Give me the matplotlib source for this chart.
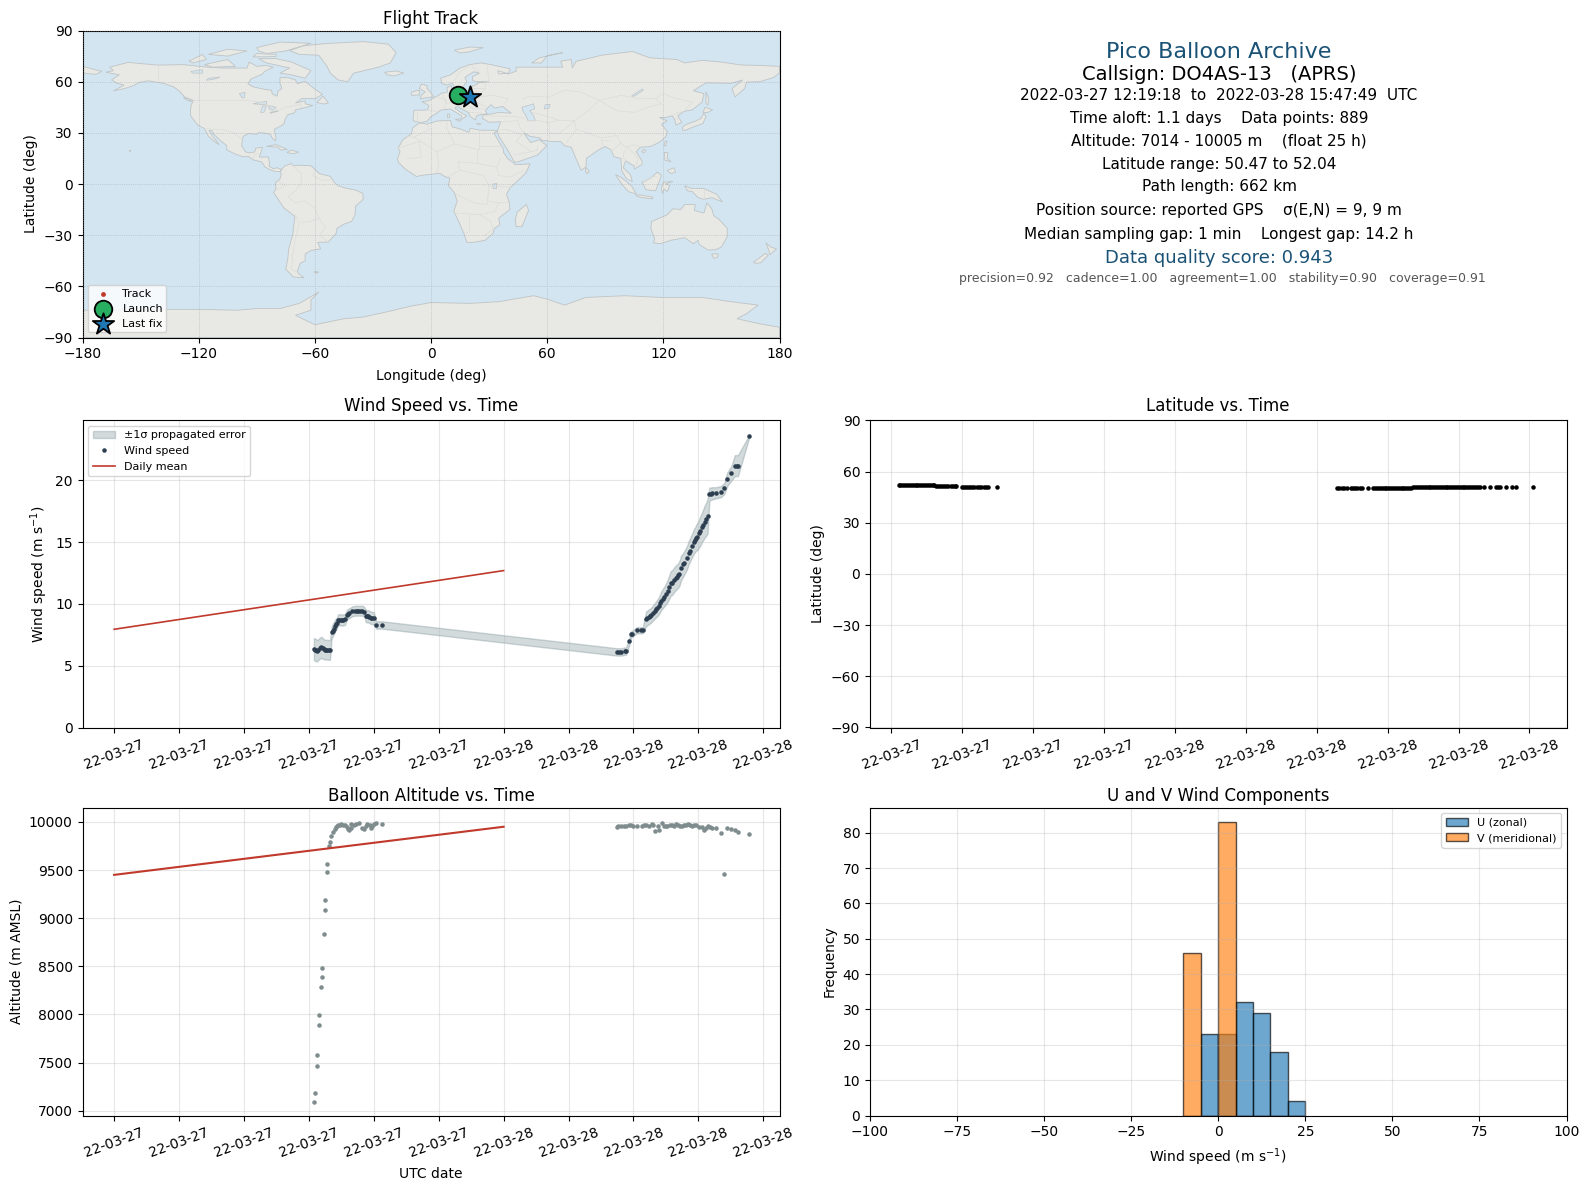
import pandas as pd
import matplotlib
matplotlib.use("Agg")
import matplotlib.pyplot as plt
import matplotlib.dates as mdates

# --- simplified coastlines (lon, lat) ---
north_america = [(-168,65.5),(-164,66.5),(-166,68.5),(-156.5,71.3),(-141,69.7),(-128,70),(-115,68.5),(-108,68),(-95,68),(-94,71.5),(-90,69),(-85,69.5),(-81.5,68.5),(-86,66),(-87,64.5),(-93,61.5),(-94.5,58.8),(-92,57),(-85,55.3),(-82.3,55),(-82,52.8),(-79.5,51.5),(-79,54.5),(-77,56),(-78,58.8),(-78,62.4),(-73.5,62.3),(-70,61),(-69,58.8),(-65,60.3),(-61,56.5),(-56,52.5),(-60,50),(-66.5,50.2),(-70,47.5),(-65,48.8),(-65,47),(-61,46),(-66,44.5),(-70,43.5),(-70.5,41.7),(-74,40.6),(-75.5,37.5),(-76,35),(-81,32),(-80,27),(-80.5,25.2),(-82,27),(-83,29),(-85,29.7),(-89,30.2),(-90,29.1),(-94,29.6),(-97,28),(-97.5,25),(-97.8,22.5),(-96,19),(-94,18.2),(-91,18.8),(-90.5,21),(-87,21.5),(-88,18),(-88.7,15.8),(-84,15.8),(-83.3,12),(-83.7,10.5),(-81.5,9),(-79.5,9.5),(-77.4,8.7),(-77.9,7.2),(-80,7.3),(-81.5,7.7),(-83.5,8.5),(-85.7,10),(-87.5,13),(-91.5,14),(-94.5,16.2),(-97,15.9),(-102,18),(-105.5,20),(-105.5,22.5),(-109,25.7),(-112,29),(-113,31.2),(-114.7,31.5),(-112.8,28),(-110,24),(-109.5,23),(-112,25),(-115,28),(-117,32.5),(-120.5,34.5),(-122.5,37.5),(-124.3,40.3),(-124,46),(-122.7,49),(-127,50.8),(-130,54.5),(-133,57),(-138,59),(-146,60.5),(-151,59.5),(-153,58),(-158,56),(-164,54.6),(-158.5,58),(-162,59),(-165,61),(-161,64)]
south_america = [(-77.9,7.2),(-75.5,10.7),(-72,12),(-71.5,10.8),(-68,11),(-62,10.7),(-57.5,6),(-52,4.5),(-50,1),(-48,-1),(-44,-2.5),(-39,-3.5),(-35.2,-5.5),(-35,-9),(-39,-13),(-39.2,-18),(-41,-22),(-45,-23.5),(-48.5,-26),(-49,-29),(-53,-34),(-58.5,-34.2),(-57,-38),(-62,-39),(-65,-41),(-65,-45),(-67.5,-46.5),(-69,-51),(-68.5,-52.5),(-65.5,-55),(-71,-54.5),(-75,-50),(-74,-44),(-73.5,-38),(-71.5,-30),(-70.3,-19),(-76,-14),(-81.3,-5),(-80,-2.5),(-80.5,0.5),(-78,3),(-77.3,6)]
africa = [(-5.9,35.8),(-2,35.1),(3,36.9),(10,37.3),(11,33.5),(15,32.3),(19.5,30.3),(20.2,32.7),(25,31.6),(31,31.5),(34.6,31.4),(32.5,29.8),(34,27),(35.5,24),(37.2,21),(37.5,18.5),(39.5,15),(43,12),(43.3,11.3),(51.2,11.8),(49,6.5),(44,1),(41,-2),(39,-6),(40.5,-11),(40.7,-15),(35,-20),(35.5,-24),(32.8,-26),(32,-29),(28,-33),(22,-34.2),(18.5,-34.2),(17,-29),(14.5,-22.5),(11.8,-16),(13.5,-10),(12,-5),(9,-1),(9.7,3.5),(7,4.4),(4.5,6.3),(1,5.8),(-4,5.2),(-7.5,4.4),(-13,8.5),(-16.7,12.5),(-17.3,14.7),(-16,19),(-17,21),(-14.5,26),(-10,29.5),(-9.5,33)]
eurasia = [(-5.6,36),(-9,37),(-9.3,39),(-8.8,43.2),(-1.8,43.4),(-1,46),(-4.7,48.3),(-1.5,48.7),(1.5,50.5),(4,52),(5.5,53.3),(8.5,53.8),(8.3,56.5),(10.6,57.7),(10.5,54.5),(14,54),(19,54.5),(21,55.5),(21.5,57.5),(24,58.5),(24,59.3),(30,60),(23,60),(21.3,61),(21.5,63),(25,65),(22,65.8),(17.5,62.5),(18.5,60),(16.5,57),(14.3,55.5),(12.7,56),(11,59),(8,58),(5.5,59),(5,62),(10,64),(15,68),(20,70),(26,71),(31,70),(41,67.5),(40,65),(35,64.5),(34.5,66.5),(40,64.5),(44,66.2),(44,68.5),(54,68.5),(60,68.5),(68,68.5),(67,72),(72.5,73),(73,68),(75,72),(81,73.5),(88,75.5),(104,77.7),(113,74),(127,73),(131,71),(140,72.5),(150,71.5),(160,69.8),(170,69.5),(180,69),(180,65),(177,62.5),(170,60),(163,59.8),(162,56),(157,51),(155.5,56),(161,61),(155,59),(142,59.3),(135.5,54.7),(141,53),(140,48),(135,43.5),(130.5,42.5),(127.5,40),(129.5,36),(126.5,34.5),(126,37.5),(124.5,40),(121.5,39),(118,39),(122,37),(119,35),(122,31),(121.5,28),(118,24.5),(113.5,22),(108,21.5),(106,19),(109,13.5),(109,11.5),(105,8.7),(105,10.5),(100.5,13.5),(99.3,9.5),(103,5.5),(104,1.5),(101,3),(98.5,8),(98,15),(94.5,16),(93,20),(90,22),(86.5,20),(80.3,15),(80,10),(77.5,8),(73,20),(72.5,21.5),(69,22.5),(67,24.8),(61.5,25),(57,25.7),(56.3,27),(51,28),(48,30),(50,26.5),(51.5,24.3),(56,26),(59.8,22.5),(55,17),(45,13),(43.2,12.7),(39,21),(35,28),(34.3,31),(36,36.5),(30,36.2),(26.5,38.5),(27,40.7),(31,41),(35,42),(41.5,41.5),(38,44.5),(37,45.5),(33,44.5),(31,46.5),(28,43),(29,41),(26,40.8),(23.5,40),(23,37.5),(20,39.8),(19.5,41.8),(13.5,45.5),(12.3,44.5),(16,41.5),(18.5,40),(16,38),(15.7,40),(10,44),(5,43.3),(3,41.5),(0,39.5),(-2,36.8)]
chukotka = [(-180,69),(-175,67.5),(-170,66),(-173,64.3),(-180,65)]
greenland = [(-73,78.2),(-66,81),(-55,82.3),(-35,83.5),(-22,82),(-18,77),(-21,71),(-27,68.5),(-40,65),(-43,60),(-48,61),(-52,65),(-54,69.5),(-58,75.5),(-68,76)]
australia = [(114,-22),(113.5,-26),(115.5,-32),(115,-34.5),(118.5,-35),(124,-33),(131,-31.5),(135.5,-35),(138,-33),(138.5,-35.5),(143,-38.7),(147,-38.5),(150,-37),(153,-31),(153,-26),(149,-21),(146,-18.5),(145,-14.5),(142.5,-11),(141,-17),(136,-15.5),(136.5,-12),(131,-12),(129,-15),(125,-14.5),(122,-18),(117,-20.5)]
antarctica = [(-180,-90),(-180,-74),(-150,-74),(-135,-73.5),(-120,-73.5),(-100,-74),(-90,-73),(-78,-73),(-68,-70),(-58,-63.4),(-62,-68),(-62,-74),(-70,-77),(-60,-82.5),(-45,-79),(-35,-78),(-23,-75),(-10,-71.5),(0,-69.5),(20,-70),(35,-69),(53,-65.5),(60,-67.5),(69,-71),(80,-66.5),(100,-65.5),(119,-66.5),(140,-66.5),(155,-69),(169,-71),(163,-76),(158,-79),(170,-82),(180,-84),(180,-90)]
islands = [
    [(-5.5,50),(1.5,51.2),(0,53.5),(-2,56),(-2,57.7),(-5,58.6),(-6,56),(-3,54),(-5,52)],
    [(-10,52),(-6,52.2),(-6,55),(-10,54)],
    [(-24,65.5),(-18,66.3),(-14,65),(-19,63.4),(-22.5,64)],
    [(12,78.5),(20,80.3),(27,80),(20,77.5),(15,76.8)],
    [(52,71),(56,74),(68,77),(60,75.3),(57,71)],
    [(142,54),(143.5,50),(143,46.2),(142,47.5),(142,51)],
    [(140.5,41.8),(141.5,45),(145.5,43.5),(143,42)],
    [(130,31.5),(131.5,31.5),(136,33.7),(140.5,35.5),(142,39.5),(141,41.5),(139.5,38.5),(136.5,36.8),(132,35),(130,33.5)],
    [(120.3,23),(121,22),(122,25),(121,25.2)],
    [(108.8,19),(110,18.2),(111,19.8),(109.8,20.2)],
    [(120.5,18.5),(122.3,18.3),(122,15),(124,13),(120.8,14)],
    [(122,8),(125.5,9.5),(126.3,7),(124,6)],
    [(109,1),(111,2),(113.5,3.5),(117,7),(119,5),(117.7,1),(116,-4),(111,-3.3)],
    [(95.3,5.5),(98,4),(103.5,-1),(106,-5.8),(102,-4.5),(98.5,0)],
    [(105.5,-6.5),(108,-6.4),(114.5,-7.7),(114.5,-8.7),(108,-7.8)],
    [(119.5,-5.5),(119,-2.5),(120,1),(125,1.5),(121,0),(123.3,-1),(122,-4.5),(120.5,-3)],
    [(131,-1),(134,-2.5),(141,-2.7),(147.5,-6),(150.5,-10.5),(145,-8),(141,-9),(138,-8),(135,-4.5),(132.5,-4)],
    [(145,-41),(148.3,-41),(148,-43),(146,-43.6)],
    [(173,-34.5),(175.5,-37),(178.5,-38),(175,-41.5),(174.5,-39)],
    [(172.7,-40.6),(174.2,-41.7),(170.7,-45.8),(168.5,-46.6),(166.5,-46)],
    [(49.3,-12),(50.4,-15.5),(47,-25),(44,-25),(43.5,-21),(44.5,-16.5)],
    [(80,9.7),(81.8,7.5),(80.7,6),(79.8,7.5)],
    [(-85,22),(-80,23.1),(-74.2,20.2),(-77.7,19.9),(-79,21.6)],
    [(-74.4,18.5),(-72,19.9),(-68.4,18.6),(-71.3,17.7)],
    [(-59,47.7),(-55.7,51.5),(-53,47.5),(-55.5,46.9)],
    [(-80,73.5),(-72,71.5),(-67,69),(-62,66.5),(-65,62),(-72,64),(-78,65),(-73,68),(-85,71),(-89,73.5)],
    [(-117,70),(-105,73),(-101,69),(-113,68.5)],
    [(-125,72),(-118,76),(-116,73),(-123,71)],
    [(-90,76.5),(-80,76),(-80,74.7),(-92,74.5)],
    [(-90,80),(-78,83.2),(-62,82.5),(-75,78),(-85,76.5),(-89,78)],
    [(-115,76),(-105,79),(-95,78),(-105,75)],
    [(-128,50.7),(-125.5,50),(-123.5,48.4),(-125.5,48.8)],
    [(-156,19.5),(-155,19.8),(-155.5,19)],
    [(-60.5,-51.5),(-58,-51.5),(-59,-52.3)],
    [(12.5,38),(15.5,38),(15,36.7)],
    [(8.5,41),(9.7,41),(9.5,39),(8.5,39)],
    [(23.5,35.5),(26,35.3),(24.5,34.9)],
]
lakes = [
    [(-92,47),(-85,48.5),(-84.8,46.7),(-88,46.7)],
    [(-88,42),(-86.3,42),(-85,45.8),(-87,45.8)],
    [(-84,46),(-80,45),(-81.8,43.2),(-83.5,44)],
    [(-83,42),(-79,43),(-79,42.7),(-83,41.5)],
    [(-124,66),(-118,67),(-118,65),(-123,65)],
    [(-115,62),(-109,62.7),(-112,61.5),(-116,60.8)],
    [(-99,53),(-96,53.7),(-96.5,50.5),(-97.5,50.5)],
    [(47,45),(53,47),(53.5,44),(51,43),(53,40),(54,37),(50,37.3),(49,40),(47.5,42.8)],
    [(59,46.5),(61.5,46.7),(61,44.5),(58.5,44)],
    [(103.5,51.5),(109,55.7),(109.7,55),(105,51.5)],
    [(32,0),(34,0.3),(33.7,-2.8),(32,-2.5)],
]
borders = [
    [(-141,69.7),(-141,60.3)],
    [(-123,49),(-95,49),(-88,48),(-82.5,45),(-79,43),(-75,45),(-70,46),(-67.5,47),(-67,45)],
    [(-117,32.5),(-106.5,31.7),(-101,29.5),(-97.5,26)],
    [(-92,14.5),(-91,17.5),(-89,17.8)],
    [(-72,11.5),(-67,6),(-67,1),(-70,-4),(-74,-7.5),(-70,-11),(-65,-10),(-60,-14),(-58,-20),(-54.5,-25.5),(-57.5,-30),(-53.5,-33.7)],
    [(-60,8),(-61,5),(-56,2),(-52,2.5)],
    [(-70,-18),(-68,-23),(-70,-32),(-71.5,-42),(-72,-50),(-69,-52)],
    [(-80,-3.5),(-75,-1),(-79,1.5)],
    [(-58,-20),(-62,-22),(-67,-22.5)],
    [(-13,27.7),(-8.7,27.5),(-1,32),(-2,35)],
    [(-8.7,27.5),(3,19),(12,23.5),(9.5,30),(8,33),(8.5,37)],
    [(12,23.5),(25,20),(25,31.5)],
    [(25,22),(37,22)],
    [(-17,21),(-6,25),(-5,15.5),(-12,15)],
    [(3,19),(4,12),(3,6.5)],
    [(14,13),(15,8),(9,4.5)],
    [(14,13),(24,12),(24,20)],
    [(24,12),(34,10),(36,15)],
    [(34,10),(35,5),(41,4),(48,8)],
    [(15,8),(27,5),(30,-1),(29,-12),(22,-11),(13,-6)],
    [(30,-1),(41,-2)],
    [(30,-10),(34,-11),(40,-11)],
    [(12,-17),(25,-18),(33,-16),(35,-11)],
    [(20,-18),(20,-28),(17,-29)],
    [(25,-18),(31,-22),(32,-26.5),(28,-30)],
    [(-1.8,43.4),(3,42.5)],
    [(-7,42),(-7,37)],
    [(3,51),(8,49),(7.5,47.5),(7,44)],
    [(7,53.5),(6,51),(8,49)],
    [(7.5,47.5),(13,47.5),(17,48),(22.5,48.5),(24,51),(23.5,54),(19,54.5)],
    [(14,54),(15,51),(19,49.5),(22.5,48.5)],
    [(22.5,48.5),(28,45.5),(29,45.3)],
    [(13.5,45.5),(19,46),(22.5,44),(28,44)],
    [(20,42),(26,41.5)],
    [(24,51),(32,52),(40,50),(38,47)],
    [(28,56),(28,59.5),(30,60),(29,69)],
    [(24,51),(28,56),(21,56)],
    [(21,69),(25,65.5)],
    [(12.5,61),(15,66),(20,69)],
    [(26,40),(44,39.5),(48,38.5)],
    [(36,36.5),(42,37),(44.5,37.5)],
    [(44.5,37.5),(46,33),(48,30)],
    [(36,32),(39,32),(47,29)],
    [(47,29),(44,25),(52,19),(55,20),(55,22)],
    [(43,17),(52,19)],
    [(50,37),(54,37.3),(61,36),(61,31),(61.5,25)],
    [(61,36),(66,37.3),(74,37)],
    [(61,30),(66,29.5),(70,33),(74,37)],
    [(74,37),(75,32),(70,24.5)],
    [(75,32),(81,30),(88,27),(96,28.5),(98,24),(101,21.5)],
    [(92,25),(88,26),(89,22)],
    [(98,24),(94,20)],
    [(101,21.5),(105,23),(108,21.5)],
    [(101,21.5),(105,18),(107,15),(106,11)],
    [(100,20),(99,15),(103,12.5)],
    [(52,42),(56,41),(66,37.5)],
    [(47.5,50),(51,51.5),(61,51),(69,55),(77,54),(87,49)],
    [(87,49),(98,52),(107,50),(116,50),(120,53),(127,50),(135,48),(131,43)],
    [(87,49),(96,43),(105,42),(112,45),(119,47),(116,50)],
    [(74,37),(80,42),(87,49)],
    [(124.5,40),(128,42),(130.5,42.5)],
    [(126.5,38),(128.5,38.5)],
    [(141,-2.7),(141,-9)],
    [(110,1.5),(115,4.5),(117,4)],
]

# Flight data, hours after 2022-03-27 00:00 UTC
wind_hours = [12.31,12.37,12.45,12.5,12.58,12.66,12.77,12.85,12.92,12.98,13.06,13.14,13.22,13.3,13.4,13.46,13.52,13.6,13.66,13.72,13.8,13.88,13.96,14.04,14.1,14.22,14.34,14.42,14.5,14.66,14.85,14.95,15.05,15.18,15.3,15.42,15.5,15.58,15.66,15.72,15.8,15.9,16.0,16.15,16.5,30.97,31.08,31.24,31.48,31.55,31.75,31.86,31.94,32.2,32.45,32.57,32.78,32.86,32.94,33.02,33.09,33.2,33.3,33.4,33.48,33.56,33.64,33.7,33.8,33.9,34.0,34.1,34.2,34.3,34.38,34.5,34.6,34.68,34.76,34.83,34.93,35.08,35.14,35.3,35.4,35.46,35.6,35.72,35.8,35.86,35.94,36.06,36.12,36.22,36.3,36.38,36.48,36.57,36.68,36.76,36.84,37.09,37.4,37.6,37.78,38.03,38.25,38.36,38.44,39.14]
wind_speed = [6.35,6.3,6.25,6.2,6.3,6.4,6.5,6.4,6.35,6.3,6.3,6.3,6.28,6.27,7.7,7.85,8.0,8.2,8.35,8.45,8.7,8.72,8.72,8.7,8.7,8.75,9.1,9.22,9.25,9.4,9.45,9.45,9.45,9.45,9.45,9.35,9.05,9.0,9.0,8.95,8.9,8.85,8.85,8.3,8.3,6.12,6.12,6.12,6.18,6.2,7.0,7.55,7.6,7.87,7.87,7.87,8.8,8.87,8.95,9.02,9.1,9.25,9.42,9.57,9.7,9.85,10.05,10.25,10.42,10.6,10.8,11.05,11.35,11.67,11.72,11.95,12.1,12.2,12.32,12.45,12.9,13.2,13.35,13.75,14.15,14.3,14.7,15.05,15.2,15.36,15.45,15.75,15.9,16.2,16.4,16.65,16.85,17.1,18.87,18.92,18.95,19.0,19.1,19.35,20.1,20.57,21.2,21.2,21.2,23.6]
wind_err = [0.9,0.9,0.9,0.85,0.85,0.85,0.85,0.85,0.8,0.8,0.8,0.8,0.8,0.8,0.5,0.5,0.5,0.5,0.45,0.45,0.45,0.45,0.45,0.45,0.45,0.45,0.4,0.4,0.4,0.4,0.4,0.4,0.4,0.4,0.4,0.4,0.5,0.5,0.5,0.5,0.5,0.5,0.5,0.3,0.3,0.3,0.3,0.3,0.3,0.3,0.3,0.25,0.25,0.25,0.25,0.25,0.6,0.6,0.6,0.6,0.6,0.62,0.62,0.65,0.68,0.7,0.72,0.75,0.78,0.8,0.85,0.9,0.95,1.0,1.0,1.0,1.0,1.0,1.0,1.0,1.0,0.95,0.95,0.95,0.95,0.95,0.95,1.0,1.0,1.05,1.1,1.15,1.2,1.2,1.25,1.3,1.35,1.4,0.55,0.5,0.5,0.45,0.45,0.45,0.55,0.6,0.85,0.85,0.85,0.1]

lat_hours = [12.31,12.38,12.46,12.54,12.62,12.7,12.78,12.86,12.94,13.02,13.1,13.18,13.26,13.34,13.42,13.5,13.58,13.66,13.74,13.82,13.9,13.98,14.06,14.14,14.22,14.3,14.4,14.5,14.6,14.68,14.75,15.0,15.08,15.16,15.24,15.32,15.4,15.5,15.6,15.7,15.8,15.9,16.0,16.1,16.46,30.87,30.95,31.05,31.15,31.27,31.44,31.52,31.62,31.72,31.82,31.93,32.18,32.39,32.47,32.55,32.63,32.71,32.79,32.87,32.95,33.03,33.11,33.19,33.27,33.35,33.43,33.51,33.59,33.67,33.75,33.83,33.91,33.99,34.07,34.15,34.25,34.33,34.41,34.49,34.57,34.65,34.73,34.81,34.89,34.97,35.05,35.13,35.21,35.29,35.37,35.45,35.53,35.61,35.69,35.77,35.85,35.93,36.01,36.09,36.17,36.25,36.33,36.41,36.49,36.57,36.65,36.73,36.81,36.9,37.07,37.33,37.58,37.67,37.76,38.0,38.26,38.45,39.14]
lat_values = [51.9,51.9,51.95,51.95,52.0,52.0,52.0,52.0,52.0,52.0,52.0,52.0,51.95,51.95,51.95,51.95,51.9,51.9,51.9,51.9,51.85,51.85,51.85,51.8,51.8,51.8,51.75,51.7,51.7,51.5,51.4,51.0,51.0,51.0,51.0,51.0,51.0,51.0,51.0,51.0,51.0,51.0,51.0,50.95,51.0,50.6,50.6,50.55,50.55,50.6,50.6,50.6,50.6,50.55,50.6,50.6,50.6,50.5,50.5,50.5,50.5,50.5,50.5,50.47,50.47,50.47,50.47,50.5,50.5,50.5,50.5,50.5,50.5,50.5,50.55,50.55,50.6,50.7,50.75,50.85,51.1,51.2,51.25,51.25,51.3,51.3,51.3,51.3,51.25,51.25,51.3,51.3,51.25,51.25,51.25,51.3,51.3,51.25,51.25,51.25,51.3,51.25,51.25,51.25,51.25,51.25,51.2,51.2,51.2,51.2,51.2,51.2,51.2,51.2,51.2,51.25,51.2,51.2,51.2,51.2,51.2,51.2,51.2]

alt_hours = [12.31,12.375,12.5,12.5,12.625,12.625,12.75,12.81,12.81,12.94,13.0,13.0,13.125,13.125,13.25,13.31,13.375,13.5,13.58,13.65,13.72,13.8,13.9,14.0,14.1,14.23,14.34,14.44,14.5,14.6,14.6,14.75,14.9,15.06,15.27,15.4,15.5,15.6,15.75,15.83,15.92,16.0,16.15,16.5,31.0,31.05,31.24,31.4,31.55,31.7,31.86,32.0,32.2,32.53,32.65,32.78,32.98,33.13,33.2,33.35,33.5,33.6,33.74,33.87,34.0,34.07,34.28,34.4,34.52,34.64,34.75,34.89,35.0,35.14,35.25,35.38,35.5,35.6,35.72,35.86,36.06,36.2,36.37,36.45,36.57,36.7,36.82,37.1,37.42,37.6,37.78,38.03,38.26,38.42,39.14]
alt_values = [7095,7188,7469,7583,7895,7999,8290,8393,8487,8840,9089,9193,9484,9567,9751,9796,9858,9900,9930,9948,9955,9965,9970,9976,9972,9965,9950,9931,9913,9976,9934,9970,9983,9990,9941,9927,9960,9983,9969,9941,9960,9976,9986,9983,9948,9955,9955,9960,9962,9965,9965,9962,9962,9962,9965,9969,9955,9979,9970,9909,9955,9920,9990,9955,9958,9962,9969,9965,9962,9983,9965,9955,9960,9965,9970,9976,9965,9962,9968,9969,9948,9945,9920,9940,9955,9945,9934,9937,9888,9458,9941,9930,9916,9895,9878]

daily_hours = [0, 24]
daily_speed = [7.95, 12.7]
daily_alt = [9450, 9950]

track_lon = [13.6, 14.5, 16.0, 17.5, 19.0, 20.0]
track_lat = [51.9, 51.9, 51.0, 50.6, 51.2, 51.2]
launch_lon, launch_lat = 13.8, 51.9
last_lon, last_lat = 20.0, 51.2

hist_left = [-10, -5, 0, 5, 10, 15, 20]
u_counts = [0, 23, 23, 32, 29, 18, 4]
v_counts = [46, 0, 83, 0, 0, 0, 0]

WIDTH, HEIGHT = 1590, 1189
MAP_BOX = (82.5, 30.5, 779.5, 337.5)
WIND_BOX = (82.5, 420.5, 779.5, 727.5)
LAT_BOX = (870, 420.5, 1566.5, 727.5)
ALT_BOX = (82.5, 807.5, 779.5, 1115.5)
HIST_BOX = (870, 807.5, 1566.5, 1115.5)

plt.rcParams["axes.titlepad"] = 5


def add_axes_px(fig, box):
    x0, y0, x1, y1 = box
    return fig.add_axes([x0 / WIDTH, 1 - y1 / HEIGHT, (x1 - x0) / WIDTH, (y1 - y0) / HEIGHT])


def to_dates(hours):
    return pd.Timestamp("2022-03-27") + pd.to_timedelta(hours, unit="h")


def style_time_axis(ax, step, xlim):
    ax.set_xlim(to_dates(xlim[0]), to_dates(xlim[1]))
    ax.xaxis.set_major_locator(mdates.HourLocator(byhour=range(0, 24, step)))
    ax.xaxis.set_major_formatter(mdates.DateFormatter("%y-%m-%d"))
    ax.tick_params(axis="x", labelrotation=20)
    ax.grid(alpha=0.3)


fig = plt.figure(figsize=(WIDTH / 100, HEIGHT / 100), dpi=100)

# Panel 1: map
ax = add_axes_px(fig, MAP_BOX)
ax.set_facecolor("#d3e5f1")
land = [north_america, south_america, africa, eurasia, chukotka, greenland, australia, antarctica] + islands
for poly in land:
    lons, lats = zip(*poly)
    ax.fill(lons, lats, facecolor="#e8e8e4", edgecolor="#bfc4c5", linewidth=0.6, zorder=1)
for poly in lakes:
    lons, lats = zip(*poly)
    ax.fill(lons, lats, facecolor="#d3e5f1", edgecolor="#bfc4c5", linewidth=0.5, zorder=1.1)
for line in borders:
    lons, lats = zip(*line)
    ax.plot(lons, lats, color="#dcdcd9", linewidth=0.5, zorder=1.2)
ax.grid(color="#9aa0a4", linewidth=0.5, linestyle=":", alpha=0.7, zorder=1.5)
ax.set_axisbelow(False)
ax.scatter(track_lon, track_lat, s=6, color="#c0392b", label="Track", zorder=3)
ax.scatter(launch_lon, launch_lat, s=160, color="#27ae60", edgecolor="black", linewidth=1.3, label="Launch", zorder=4)
ax.scatter(last_lon, last_lat, s=260, marker="*", color="#1f77b4", edgecolor="black", linewidth=1.3, label="Last fix", zorder=5)
ax.set_xlim(-180, 180)
ax.set_ylim(-90, 90)
ax.set_xticks(range(-180, 181, 60))
ax.set_yticks(range(-90, 91, 30))
ax.set_xlabel("Longitude (deg)", labelpad=5.5)
ax.set_ylabel("Latitude (deg)")
ax.set_title("Flight Track")
ax.legend(loc="lower left", fontsize=8, labelspacing=0.45, borderpad=0.3, handletextpad=0.8)

# Panel 2: text block
cx = 1219 / WIDTH
cx_small = 1222 / WIDTH
info = [
    (52, "Pico Balloon Archive", 16, "#1a5276", cx),
    (75, "Callsign: DO4AS-13   (APRS)", 14, "black", cx),
    (96, "2022-03-27 12:19:18  to  2022-03-28 15:47:49  UTC", 11, "black", cx),
    (119, "Time aloft: 1.1 days    Data points: 889", 11, "black", cx),
    (141, "Altitude: 7014 - 10005 m    (float 25 h)", 11, "black", cx),
    (164, "Latitude range: 50.47 to 52.04", 11, "black", cx),
    (187, "Path length: 662 km", 11, "black", cx),
    (210, "Position source: reported GPS    σ(E,N) = 9, 9 m", 11, "black", cx),
    (234, "Median sampling gap: 1 min    Longest gap: 14.2 h", 11, "black", cx),
    (258, "Data quality score: 0.943", 13, "#1a5276", cx),
    (279, "precision=0.92   cadence=1.00   agreement=1.00   stability=0.90   coverage=0.91", 9, "#555555", cx_small),
]
for y, text, size, color, x in info:
    fig.text(x, 1 - y / HEIGHT, text, fontsize=size, color=color, ha="center", va="center")

# Panel 3: wind speed
ax = add_axes_px(fig, WIND_BOX)
lower = [v - e for v, e in zip(wind_speed, wind_err)]
upper = [v + e for v, e in zip(wind_speed, wind_err)]
ax.fill_between(to_dates(wind_hours), lower, upper, color="#5f7a80", alpha=0.28, label="±1σ propagated error")
ax.plot(to_dates(wind_hours), wind_speed, ".", color="#2c3e50", markersize=6.5, markeredgewidth=0, label="Wind speed")
ax.plot(to_dates(daily_hours), daily_speed, color="#c0392b", linewidth=1.2, label="Daily mean")
style_time_axis(ax, 4, (-1.95, 41.0))
ax.set_ylim(0, 24.85)
ax.set_ylabel("Wind speed (m s$^{-1}$)")
ax.set_title("Wind Speed vs. Time", pad=7)
ax.legend(loc="upper left", fontsize=8)

# Panel 4: latitude
ax = add_axes_px(fig, LAT_BOX)
ax.plot(to_dates(lat_hours), lat_values, ".", color="black", markersize=6.5, markeredgewidth=0)
style_time_axis(ax, 3, (11.09, 40.57))
ax.set_ylim(-90, 90)
ax.set_yticks(range(-90, 91, 30))
ax.set_ylabel("Latitude (deg)")
ax.set_title("Latitude vs. Time", pad=7)

# Panel 5: altitude
ax = add_axes_px(fig, ALT_BOX)
ax.plot(to_dates(alt_hours), alt_values, ".", color="#7f8c8d", markersize=6.5, markeredgewidth=0)
ax.plot(to_dates(daily_hours), daily_alt, color="#c0392b", linewidth=1.5)
style_time_axis(ax, 4, (-1.95, 41.0))
ax.set_ylim(6950, 10150)
ax.set_xlabel("UTC date", labelpad=5)
ax.set_ylabel("Altitude (m AMSL)")
ax.set_title("Balloon Altitude vs. Time")

# Panel 6: U and V histogram
ax = add_axes_px(fig, HIST_BOX)
ax.bar(hist_left, u_counts, width=5, align="edge", color="#1f77b4", alpha=0.65, edgecolor="black", label="U (zonal)")
ax.bar(hist_left, v_counts, width=5, align="edge", color="#ff7f0e", alpha=0.65, edgecolor="black", label="V (meridional)")
ax.set_xlim(-100, 100)
ax.set_ylim(0, 87.15)
ax.set_xlabel("Wind speed (m s$^{-1}$)", labelpad=5)
ax.set_ylabel("Frequency")
ax.set_title("U and V Wind Components")
ax.grid(alpha=0.3)
ax.legend(loc="upper right", fontsize=8)

fig.savefig("out.png", dpi=100)
